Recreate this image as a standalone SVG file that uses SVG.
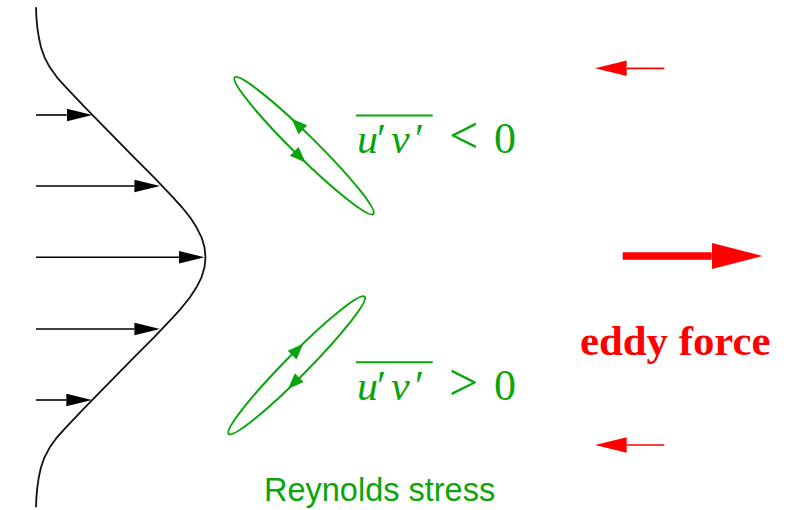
<svg xmlns="http://www.w3.org/2000/svg" width="802" height="510" viewBox="0 0 802 510">
<style>
.blk{stroke:#000;stroke-width:1.6;fill:none}
.prof{stroke:#111;stroke-width:1.8;fill:none;stroke-linejoin:round}
.grn{stroke:#0aa50a;stroke-width:2;fill:none}
.gfill{fill:#0aa50a}
.red{stroke:#f00;fill:none}
.math{font-family:"Liberation Serif",serif;fill:#0aa50a}
.it{font-style:italic}
.lbl{font-family:"Liberation Sans",Arial,sans-serif;font-size:32.5px;fill:#0aa50a}
.eddy{font-family:"Liberation Serif","Times New Roman",serif;font-weight:bold;font-size:42.8px;fill:#f00}
</style>
<defs>
<marker id="ah" markerUnits="userSpaceOnUse" markerWidth="26" markerHeight="13" refX="0" refY="6.3" orient="auto">
<path d="M0,0 L25.6,6.3 L0,12.6 z" fill="#000"/>
</marker>
<marker id="rs" markerUnits="userSpaceOnUse" markerWidth="32" markerHeight="16" refX="0" refY="7.7" orient="auto">
<path d="M0,0 L31.7,7.7 L0,15.4 z" fill="#f00"/>
</marker>
<marker id="rb" markerUnits="userSpaceOnUse" markerWidth="52" markerHeight="27" refX="0" refY="13" orient="auto">
<path d="M0,0 L51,13 L0,26 z" fill="#f00"/>
</marker>
</defs>

<g id="profile">
<path class="prof" d="M36,7.3 L36.4,17.3 L37.3,27.3 L38.8,37.3 L41,47.3 L44.5,57.3 L49.8,67.3 L57,77.3 L66,87.3 L75.5,97.3 L85,107.3 L94.8,117.3 L104.6,127.3 L114.4,137.3 L124.2,147.3 L134,157.3 L144,167.3 L154,177.3 L163.5,187.3 L173,197.3 L182,207.3 L190,217.3 L196.5,227.3 L201.5,237.3 L204.5,247.3 L205.5,257.3 L204.5,267.3 L201.5,277.3 L196.5,287.3 L190,297.3 L182,307.3 L173,317.3 L163.5,327.3 L154,337.3 L144,347.3 L134,357.3 L124.2,367.3 L114.4,377.3 L104.6,387.3 L94.8,397.3 L85,407.3 L75.5,417.3 L66,427.3 L57,437.3 L49.8,447.3 L44.5,457.3 L41,467.3 L38.8,477.3 L37.3,487.3 L36.4,497.3 L36,507.3"/>
</g>

<g id="connectors">
<line class="blk" x1="36" y1="115" x2="66.7" y2="115" marker-end="url(#ah)"/>
<line class="blk" x1="36" y1="186" x2="134.4" y2="186" marker-end="url(#ah)"/>
<line class="blk" x1="36" y1="257.3" x2="179" y2="257.3" marker-end="url(#ah)"/>
<line class="blk" x1="36" y1="329" x2="134.4" y2="329" marker-end="url(#ah)"/>
<line class="blk" x1="36" y1="400" x2="66.3" y2="400" marker-end="url(#ah)"/>
<line class="red" stroke-width="1.7" x1="664.3" y1="68.3" x2="626.7" y2="68.3" marker-end="url(#rs)"/>
<line class="red" stroke-width="1.7" x1="664.3" y1="445" x2="626.7" y2="445" marker-end="url(#rs)"/>
<line class="red" stroke-width="7.3" x1="622.7" y1="256" x2="711.7" y2="256" marker-end="url(#rb)"/>
</g>

<g id="eddy-upper" transform="translate(304,145.7) rotate(44.6)">
<ellipse class="grn" cx="0" cy="0" rx="97.3" ry="11"/>
<polygon class="gfill" points="-28,-10.6 -12,-16.8 -12,-4.4"/>
<polygon class="gfill" points="13,10.9 -3,4.7 -3,17.1"/>
</g>

<g id="eddy-lower" transform="translate(296.7,365.3) rotate(-45.3)">
<ellipse class="grn" cx="0" cy="0" rx="96.6" ry="11"/>
<polygon class="gfill" points="20,-10.5 4,-16.7 4,-4.3"/>
<polygon class="gfill" points="-23,10.5 -7,4.3 -7,16.7"/>
</g>

<g id="label-negative">
<line x1="356" y1="115.5" x2="432.7" y2="115.5" stroke="#0aa50a" stroke-width="2"/>
<text class="math" y="153" font-size="42"><tspan class="it" x="357">u</tspan><tspan x="377">′</tspan><tspan class="it" x="391">v</tspan><tspan x="415">′</tspan></text>
<text class="math" x="449" y="153" font-size="52">&lt;</text>
<text class="math" x="494" y="153" font-size="44">0</text>
</g>

<g id="label-positive">
<line x1="356" y1="362.3" x2="432.7" y2="362.3" stroke="#0aa50a" stroke-width="2"/>
<text class="math" y="400" font-size="42"><tspan class="it" x="357">u</tspan><tspan x="377">′</tspan><tspan class="it" x="391">v</tspan><tspan x="415">′</tspan></text>
<text class="math" x="449" y="400" font-size="52">&gt;</text>
<text class="math" x="494" y="400" font-size="44">0</text>
</g>

<g id="label-reynolds">
<text class="lbl" x="264" y="501">Reynolds stress</text>
</g>

<g id="label-eddy-force">
<text class="eddy" x="580" y="355">eddy force</text>
</g>
</svg>
